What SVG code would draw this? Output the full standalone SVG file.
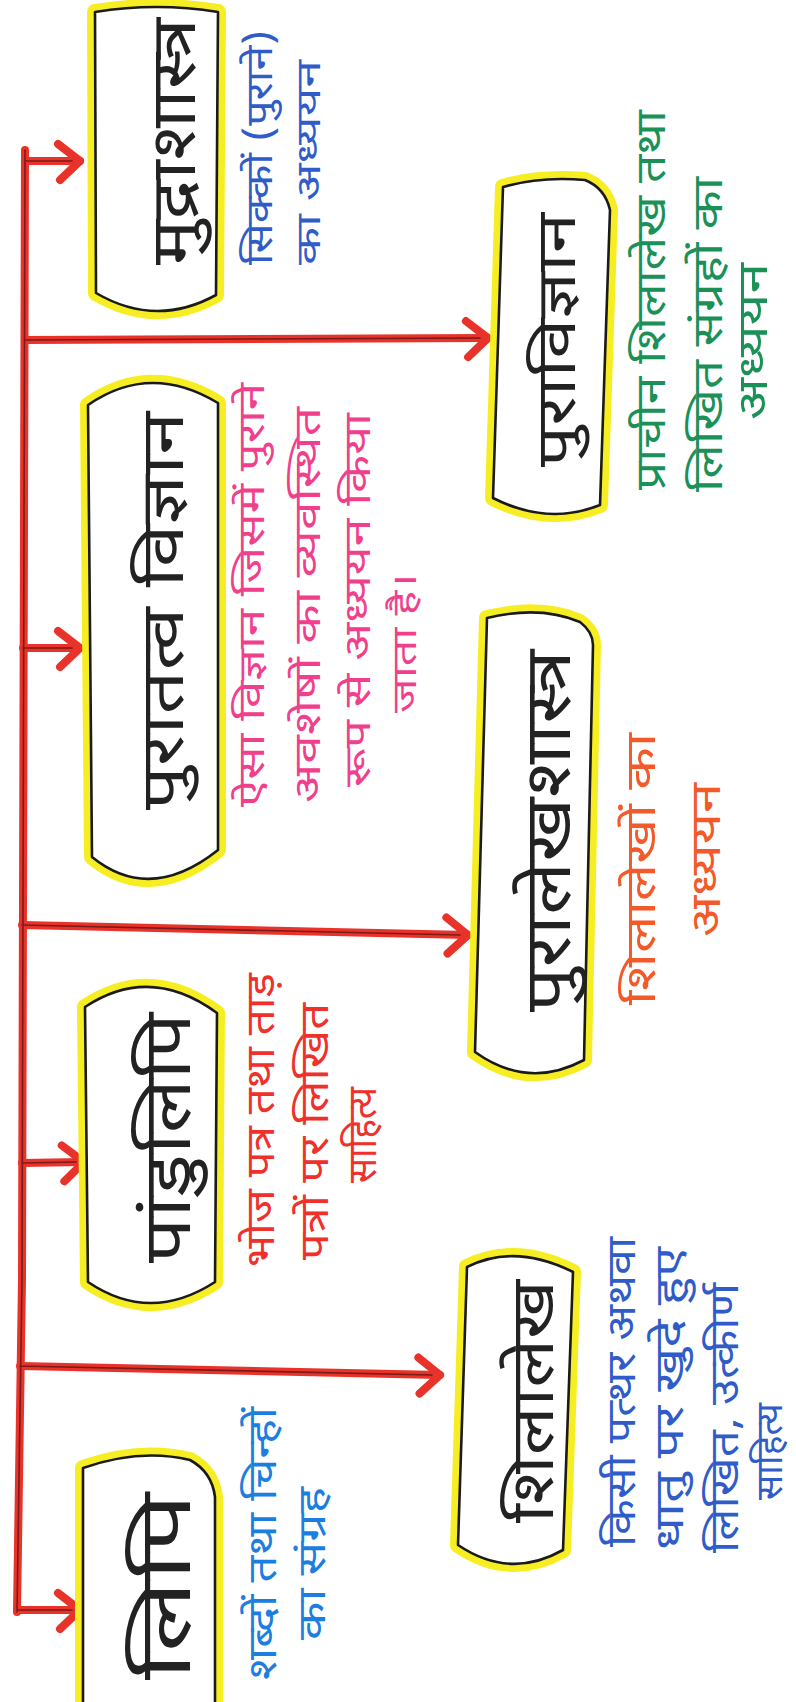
<svg xmlns="http://www.w3.org/2000/svg" width="796" height="1702" viewBox="0 0 796 1702">
<style>
.hl{fill:none;stroke:#f6ee22;stroke-width:16;stroke-linejoin:round}
.bx{fill:#fff;stroke:#1a1a1a;stroke-width:2.6;stroke-linejoin:round}
.t{font-family:"Noto Sans Devanagari","Noto Sans","Lohit Devanagari","FreeSans",sans-serif;fill:#222}
.d{font-family:"Noto Sans Devanagari","Noto Sans","Lohit Devanagari","FreeSans",sans-serif}
.blue{fill:#2f5cc8}.lblue{fill:#1c7fe0}.pink{fill:#f0408c}.green{fill:#1b9158}.red{fill:#f0302a}.orange{fill:#f25a2a}
.w{fill:none;stroke:#e8332a;stroke-width:8;stroke-linecap:round;stroke-linejoin:round}
.c{fill:none;stroke:#5a1212;stroke-width:1.6;stroke-linecap:round;opacity:.75}
</style>
<defs>
<marker id="ah" markerUnits="userSpaceOnUse" markerWidth="40" markerHeight="50" refX="30" refY="25" orient="auto" overflow="visible">
<path d="M8,8 L30,25 L10,44" fill="none" stroke="#e8332a" stroke-width="8" stroke-linecap="round" stroke-linejoin="round"/>
</marker>
</defs>
<g id="connectors">
<path class="w" d="M25,150 L22,1280 L17,1612"/>
<path class="w" d="M25,161 L80,161" marker-end="url(#ah)"/>
<path class="w" d="M25,340 L488,338" marker-end="url(#ah)"/>
<path class="w" d="M23,648 L80,648" marker-end="url(#ah)"/>
<path class="w" d="M22,925 L468,935" marker-end="url(#ah)"/>
<path class="w" d="M22,1163 L84,1162" marker-end="url(#ah)"/>
<path class="w" d="M20,1366 L440,1375" marker-end="url(#ah)"/>
<path class="w" d="M17,1610 L80,1610" marker-end="url(#ah)"/>
<path class="c" d="M25,150 L22,1280 L17,1612 M25,161 L72,161 M25,340 L480,338 M23,648 L72,648 M22,925 L460,935 M22,1163 L76,1162 M20,1366 L432,1375 M17,1610 L72,1610"/>
</g>
<g id="n1">
<path class="hl" d="M95,12 Q157,2 218,12 L216,295 Q156,328 96,293 Z"/>
<path class="bx" d="M95,12 Q157,2 218,12 L216,295 Q156,328 96,293 Z"/>
<text class="t" font-size="62" textLength="247" lengthAdjust="spacingAndGlyphs" transform="translate(195,265) rotate(-90)">मुद्राशास्त्र</text>
<text class="d blue" font-size="36" textLength="235" lengthAdjust="spacingAndGlyphs" transform="translate(272,265) rotate(-90)">सिक्कों (पुराने)</text>
<text class="d blue" font-size="34" textLength="205" lengthAdjust="spacingAndGlyphs" transform="translate(320,265) rotate(-90)">का अध्ययन</text>
</g>
<g id="n2">
<path class="hl" d="M503,187 Q540,176 585,180 Q605,188 610,210 L600,505 Q548,526 493,498 Z"/>
<path class="bx" d="M503,187 Q540,176 585,180 Q605,188 610,210 L600,505 Q548,526 493,498 Z"/>
<text class="t" font-size="54" textLength="254" lengthAdjust="spacingAndGlyphs" transform="translate(575,467) rotate(-90)">पुराविज्ञान</text>
<text class="d green" font-size="42" textLength="380" lengthAdjust="spacingAndGlyphs" transform="translate(665,490) rotate(-90)">प्राचीन शिलालेख तथा</text>
<text class="d green" font-size="42" textLength="315" lengthAdjust="spacingAndGlyphs" transform="translate(722,492) rotate(-90)">लिखित संग्रहों का</text>
<text class="d green" font-size="42" textLength="157" lengthAdjust="spacingAndGlyphs" transform="translate(767,420) rotate(-90)">अध्ययन</text>
</g>
<g id="n3">
<path class="hl" d="M88,405 Q150,362 218,403 L218,850 Q150,904 92,857 Z"/>
<path class="bx" d="M88,405 Q150,362 218,403 L218,850 Q150,904 92,857 Z"/>
<text class="t" font-size="60" textLength="398" lengthAdjust="spacingAndGlyphs" transform="translate(183,810) rotate(-90)">पुरातत्व विज्ञान</text>
<text class="d pink" font-size="36" textLength="424" lengthAdjust="spacingAndGlyphs" transform="translate(264,807) rotate(-90)">ऐसा विज्ञान जिसमें पुराने</text>
<text class="d pink" font-size="36" textLength="396" lengthAdjust="spacingAndGlyphs" transform="translate(320,803) rotate(-90)">अवशेषों का व्यवस्थित</text>
<text class="d pink" font-size="36" textLength="374" lengthAdjust="spacingAndGlyphs" transform="translate(370,787) rotate(-90)">रूप से अध्ययन किया</text>
<text class="d pink" font-size="34" textLength="140" lengthAdjust="spacingAndGlyphs" transform="translate(416,713) rotate(-90)">जाता है।</text>
</g>
<g id="n4">
<path class="hl" d="M85,1007 Q150,964 217,1013 L215,1282 Q150,1324 88,1282 Z"/>
<path class="bx" d="M85,1007 Q150,964 217,1013 L215,1282 Q150,1324 88,1282 Z"/>
<text class="t" font-size="66" textLength="250" lengthAdjust="spacingAndGlyphs" transform="translate(190,1263) rotate(-90)">पांडुलिपि</text>
<text class="d red" font-size="40" textLength="294" lengthAdjust="spacingAndGlyphs" transform="translate(274,1267) rotate(-90)">भोज पत्र तथा ताड़</text>
<text class="d red" font-size="40" textLength="257" lengthAdjust="spacingAndGlyphs" transform="translate(328,1260) rotate(-90)">पत्रों पर लिखित</text>
<text class="d red" font-size="40" textLength="96" lengthAdjust="spacingAndGlyphs" transform="translate(376,1183) rotate(-90)">साहित्य</text>
</g>
<g id="n5">
<path class="hl" d="M83,1468 Q140,1448 190,1460 Q212,1472 215,1497 L215,1712 L83,1712 Z"/>
<path class="bx" d="M83,1468 Q140,1448 190,1460 Q212,1472 215,1497 L215,1712 L83,1712 Z"/>
<text class="t" font-size="72" textLength="187" lengthAdjust="spacingAndGlyphs" transform="translate(190,1680) rotate(-90)">लिपि</text>
<text class="d lblue" font-size="40" textLength="273" lengthAdjust="spacingAndGlyphs" transform="translate(276,1680) rotate(-90)">शब्दों तथा चिन्हों</text>
<text class="d lblue" font-size="38" textLength="153" lengthAdjust="spacingAndGlyphs" transform="translate(325,1640) rotate(-90)">का संग्रह</text>
</g>
<g id="n6">
<path class="hl" d="M487,618 Q540,605 580,622 Q593,632 593,645 L584,1060 Q528,1090 475,1052 Z"/>
<path class="bx" d="M487,618 Q540,605 580,622 Q593,632 593,645 L584,1060 Q528,1090 475,1052 Z"/>
<text class="t" font-size="64" textLength="362" lengthAdjust="spacingAndGlyphs" transform="translate(570,1012) rotate(-90)">पुरालेखशास्त्र</text>
<text class="d orange" font-size="42" textLength="272" lengthAdjust="spacingAndGlyphs" transform="translate(655,1005) rotate(-90)">शिलालेखों का</text>
<text class="d orange" font-size="42" textLength="154" lengthAdjust="spacingAndGlyphs" transform="translate(720,937) rotate(-90)">अध्ययन</text>
</g>
<g id="n7">
<path class="hl" d="M467,1267 Q515,1243 573,1272 L563,1550 Q510,1580 458,1545 Z"/>
<path class="bx" d="M467,1267 Q515,1243 573,1272 L563,1550 Q510,1580 458,1545 Z"/>
<text class="t" font-size="60" textLength="243" lengthAdjust="spacingAndGlyphs" transform="translate(553,1523) rotate(-90)">शिलालेख</text>
<text class="d blue" font-size="40" textLength="310" lengthAdjust="spacingAndGlyphs" transform="translate(635,1547) rotate(-90)">किसी पत्थर अथवा</text>
<text class="d blue" font-size="40" textLength="303" lengthAdjust="spacingAndGlyphs" transform="translate(683,1550) rotate(-90)">धातु पर खुदे हुए</text>
<text class="d blue" font-size="40" textLength="270" lengthAdjust="spacingAndGlyphs" transform="translate(738,1553) rotate(-90)">लिखित, उत्कीर्ण</text>
<text class="d blue" font-size="36" textLength="97" lengthAdjust="spacingAndGlyphs" transform="translate(782,1500) rotate(-90)">साहित्य</text>
</g>
</svg>
